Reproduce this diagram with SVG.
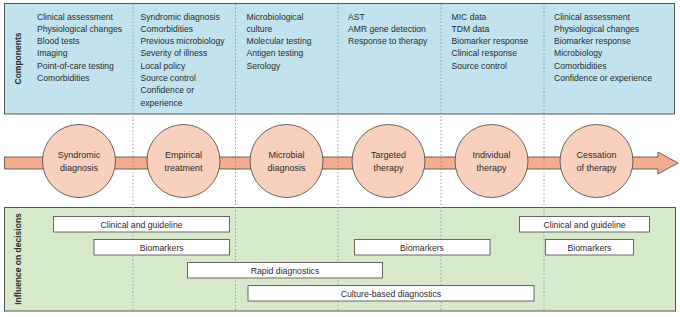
<svg xmlns="http://www.w3.org/2000/svg" width="680" height="317" viewBox="0 0 680 317">
<style>
text{font-family:"Liberation Sans",Arial,sans-serif;fill:#2b2b2b}
.c{font-size:8.6px}
.n{font-size:9px;text-anchor:middle}
.b{font-size:8.7px;text-anchor:middle}
.v{font-size:8.5px;font-weight:bold;text-anchor:middle}
.bar{fill:#fff;stroke:#666;stroke-width:1}
.circ{fill:#f9d0bd;stroke:#555;stroke-width:0.9}
.dot{stroke:#7f9aa6;stroke-width:0.9;stroke-dasharray:1.5 2}
</style>
<rect x="4.5" y="3.5" width="670" height="110.5" fill="#c2e3ee" stroke="#555" stroke-width="1"/>
<rect x="4.5" y="207.5" width="671" height="103.5" fill="#d7e9cb" stroke="#555" stroke-width="1"/>
<text class="v" transform="translate(21,58.5) rotate(-90)">Components</text>
<text class="v" transform="translate(21,259) rotate(-90)">Influence on decisions</text>
<g id="components">
<text class="c" x="37" y="19.5">Clinical assessment<tspan x="37" dy="12.3">Physiological changes</tspan><tspan x="37" dy="12.3">Blood tests</tspan><tspan x="37" dy="12.3">Imaging</tspan><tspan x="37" dy="12.3">Point-of-care testing</tspan><tspan x="37" dy="12.3">Comorbidities</tspan></text>
<text class="c" x="140.5" y="19.5">Syndromic diagnosis<tspan x="140.5" dy="12.3">Comorbidities</tspan><tspan x="140.5" dy="12.3">Previous microbiology</tspan><tspan x="140.5" dy="12.3">Severity of illness</tspan><tspan x="140.5" dy="12.3">Local policy</tspan><tspan x="140.5" dy="12.3">Source control</tspan><tspan x="140.5" dy="12.3">Confidence  or</tspan><tspan x="140.5" dy="12.3">experience</tspan></text>
<text class="c" x="246.5" y="19.5">Microbiological<tspan x="246.5" dy="12.3">culture</tspan><tspan x="246.5" dy="12.3">Molecular testing</tspan><tspan x="246.5" dy="12.3">Antigen testing</tspan><tspan x="246.5" dy="12.3">Serology</tspan></text>
<text class="c" x="348" y="19.5">AST<tspan x="348" dy="12.3">AMR gene detection</tspan><tspan x="348" dy="12.3">Response to therapy</tspan></text>
<text class="c" x="451.5" y="19.5">MIC data<tspan x="451.5" dy="12.3">TDM data</tspan><tspan x="451.5" dy="12.3">Biomarker response</tspan><tspan x="451.5" dy="12.3">Clinical response</tspan><tspan x="451.5" dy="12.3">Source control</tspan></text>
<text class="c" x="554" y="19.5">Clinical assessment<tspan x="554" dy="12.3">Physiological changes</tspan><tspan x="554" dy="12.3">Biomarker response</tspan><tspan x="554" dy="12.3">Microbiology</tspan><tspan x="554" dy="12.3">Comorbidities</tspan><tspan x="554" dy="12.3">Confidence or experience</tspan></text>
</g>
<g id="connectors">
<polygon points="4.5,157 658,157 658,152 678,163 658,174 658,169 4.5,169" fill="#f5ab8e" stroke="#555" stroke-width="0.9"/>
<line class="dot" x1="133" y1="4" x2="133" y2="311"/>
<line class="dot" x1="235.5" y1="4" x2="235.5" y2="311"/>
<line class="dot" x1="338" y1="4" x2="338" y2="311"/>
<line class="dot" x1="441" y1="4" x2="441" y2="311"/>
<line class="dot" x1="544" y1="4" x2="544" y2="311"/>
</g>
<g id="n1"><circle class="circ" cx="79" cy="161" r="36.5"/><text class="n" x="79" y="158">Syndromic</text><text class="n" x="79" y="170.5">diagnosis</text></g>
<g id="n2"><circle class="circ" cx="183.5" cy="161" r="36.5"/><text class="n" x="183.5" y="158">Empirical</text><text class="n" x="183.5" y="170.5">treatment</text></g>
<g id="n3"><circle class="circ" cx="286.5" cy="161" r="36.5"/><text class="n" x="286.5" y="158">Microbial</text><text class="n" x="286.5" y="170.5">diagnosis</text></g>
<g id="n4"><circle class="circ" cx="388.5" cy="161" r="36.5"/><text class="n" x="388.5" y="158">Targeted</text><text class="n" x="388.5" y="170.5">therapy</text></g>
<g id="n5"><circle class="circ" cx="491.5" cy="161" r="36.5"/><text class="n" x="491.5" y="158">Individual</text><text class="n" x="491.5" y="170.5">therapy</text></g>
<g id="n6"><circle class="circ" cx="596.5" cy="161" r="36.5"/><text class="n" x="596.5" y="158">Cessation</text><text class="n" x="596.5" y="170.5">of therapy</text></g>
<g id="bars">
<rect class="bar" x="53.5" y="216.5" width="176" height="15.5"/><text class="b" x="141.5" y="227.5">Clinical and guideline</text>
<rect class="bar" x="94" y="239.5" width="135.5" height="15.5"/><text class="b" x="161.7" y="250.5">Biomarkers</text>
<rect class="bar" x="187.5" y="262.5" width="195" height="15.5"/><text class="b" x="285" y="273.5">Rapid diagnostics</text>
<rect class="bar" x="248" y="285.5" width="286" height="15.5"/><text class="b" x="391" y="296.5">Culture-based diagnostics</text>
<rect class="bar" x="354.5" y="239.5" width="135.5" height="15.5"/><text class="b" x="422" y="250.5">Biomarkers</text>
<rect class="bar" x="519.5" y="216.5" width="130" height="15.5"/><text class="b" x="584.5" y="227.5">Clinical and guideline</text>
<rect class="bar" x="545.5" y="239.5" width="88" height="15.5"/><text class="b" x="589.5" y="250.5">Biomarkers</text>
</g>
</svg>
